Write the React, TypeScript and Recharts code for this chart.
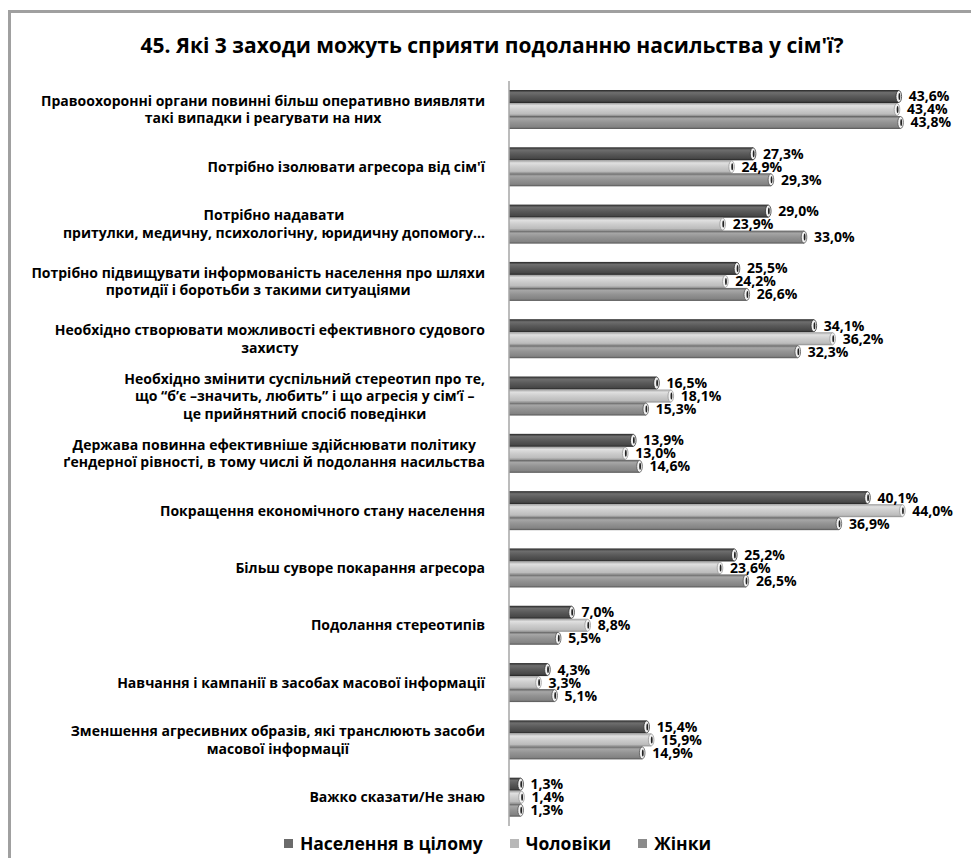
import React from "react";
import { BarChart, Bar, XAxis, YAxis, LabelList } from "recharts";

const categories = [
  "Правоохоронні органи повинні більш оперативно виявляти\nтакі випадки і реагувати на них",
  "Потрібно ізолювати агресора від сім'ї",
  "Потрібно надавати\nпритулки, медичну, психологічну, юридичну допомогу…",
  "Потрібно підвищувати інформованість населення про шляхи\nпротидії і боротьби з такими ситуаціями",
  "Необхідно створювати можливості ефективного судового\nзахисту",
  "Необхідно змінити суспільний стереотип про те,\nщо “б’є –значить, любить” і що агресія у сім’ї –\nце прийнятний спосіб поведінки",
  "Держава повинна ефективніше здійснювати політику\nґендерної рівності, в тому числі й подолання насильства",
  "Покращення економічного стану населення",
  "Більш суворе покарання агресора",
  "Подолання стереотипів",
  "Навчання і кампанії в засобах масової інформації",
  "Зменшення агресивних образів, які транслюють засоби\nмасової інформації",
  "Важко сказати/Не знаю",
];

const totalValues = [43.6, 27.3, 29.0, 25.5, 34.1, 16.5, 13.9, 40.1, 25.2, 7.0, 4.3, 15.4, 1.3];
const menValues = [43.4, 24.9, 23.9, 24.2, 36.2, 18.1, 13.0, 44.0, 23.6, 8.8, 3.3, 15.9, 1.4];
const womenValues = [43.8, 29.3, 33.0, 26.6, 32.3, 15.3, 14.6, 36.9, 26.5, 5.5, 5.1, 14.9, 1.3];

const seriesNames = ["Населення в цілому", "Чоловіки", "Жінки"];

const data = categories.map((name, i) => ({
  name,
  total: totalValues[i],
  men: menValues[i],
  women: womenValues[i],
}));

const FONT = '"Open Sans", "Noto Sans", sans-serif';
const LABEL_FONT_SIZE = 14;

let measureCtx: CanvasRenderingContext2D | null = null;
function textWidth(s: string) {
  if (!measureCtx) {
    measureCtx = document.createElement("canvas").getContext("2d");
  }
  if (!measureCtx) return s.length * 8;
  measureCtx.font = `bold ${LABEL_FONT_SIZE}px ${FONT}`;
  return measureCtx.measureText(s).width;
}

// right-aligned block, each line centred inside it (like the Excel original)
const CategoryTick = (props: any) => {
  const { x, y, payload } = props;
  const lines: string[] = String(payload.value).split("\n");
  const blockW = Math.max(...lines.map(textWidth));
  const cx = x - blockW / 2;
  const lh = 17.5;
  const startY = y - ((lines.length - 1) * lh) / 2;
  return (
    <g>
      {lines.map((l, i) => (
        <text
          key={i}
          x={cx}
          y={startY + i * lh}
          dy="0.35em"
          textAnchor="middle"
          fontFamily={FONT}
          fontWeight="bold"
          fontSize={LABEL_FONT_SIZE}
          fill="#000"
        >
          {l}
        </text>
      ))}
    </g>
  );
};

const Cylinder = (props: any) => {
  const { x, y, width, height, grad, cap } = props;
  if (width == null || height == null) return null;
  const w = Math.max(width, 0);
  return (
    <g>
      <rect x={x} y={y} width={w} height={height} fill={`url(#${grad})`} />
      <ellipse
        cx={x + w}
        cy={y + height / 2}
        rx={2.8}
        ry={height / 2 - 0.5}
        fill="#f2f2f2"
        stroke={cap}
        strokeWidth={0.8}
      />
      <ellipse cx={x + w + 0.6} cy={y + height / 2} rx={0.9} ry={height / 2 - 3} fill="#222" />
    </g>
  );
};

const fmt = (v: any) => `${Number(v).toFixed(1).replace(".", ",")}%`;

const labelStyle = {
  fontFamily: FONT,
  fontWeight: 700,
  fontSize: 14,
  fill: "#000",
};

const legendColors = ["#6b6b6b", "#b8b8b8", "#8b8b8b"];

export default function App() {
  return (
    <div style={{ position: "relative", width: 971, height: 850, overflow: "hidden" }}>
      <style>{`html,body{overflow:hidden}`}</style>
      <div
        style={{
          position: "absolute",
          left: 0,
          top: 23,
          width: 968,
          textAlign: "center",
          fontFamily: FONT,
          fontWeight: 700,
          fontSize: 21,
          lineHeight: "28px",
          color: "#000",
        }}
      >
        45. Які 3 заходи можуть сприяти подоланню насильства у сім'ї?
      </div>
      <div style={{ position: "absolute", left: 0, top: 0 }}>
        <BarChart
          width={963}
          height={850}
          data={data}
          layout="vertical"
          margin={{ top: 73, right: 15, bottom: 32, left: 0 }}
          barSize={13}
          barGap={0}
        >
          <defs>
            <linearGradient id="gDark" x1="0" y1="0" x2="0" y2="1">
              <stop offset="0" stopColor="#262626" />
              <stop offset="0.2" stopColor="#6e6e6e" />
              <stop offset="0.5" stopColor="#5a5a5a" />
              <stop offset="0.85" stopColor="#474747" />
              <stop offset="1" stopColor="#222222" />
            </linearGradient>
            <linearGradient id="gLight" x1="0" y1="0" x2="0" y2="1">
              <stop offset="0" stopColor="#9c9c9c" />
              <stop offset="0.2" stopColor="#e0e0e0" />
              <stop offset="0.5" stopColor="#cdcdcd" />
              <stop offset="0.85" stopColor="#bcbcbc" />
              <stop offset="1" stopColor="#8c8c8c" />
            </linearGradient>
            <linearGradient id="gMid" x1="0" y1="0" x2="0" y2="1">
              <stop offset="0" stopColor="#5c5c5c" />
              <stop offset="0.2" stopColor="#a6a6a6" />
              <stop offset="0.5" stopColor="#939393" />
              <stop offset="0.85" stopColor="#838383" />
              <stop offset="1" stopColor="#555555" />
            </linearGradient>
          </defs>
          <XAxis type="number" domain={[0, 50]} hide />
          <YAxis
            type="category"
            dataKey="name"
            width={501}
            tickLine={false}
            tickSize={0}
            tickMargin={24}
            axisLine={{ stroke: "#a6a6a6", strokeWidth: 1.5 }}
            tick={<CategoryTick />}
            interval={0}
          />
          <Bar
            dataKey="total"
            name={seriesNames[0]}
            fill="#595959"
            isAnimationActive={false}
            shape={(p: any) => <Cylinder {...p} grad="gDark" cap="#333" />}
          >
            <LabelList dataKey="total" position="right" offset={10} formatter={fmt} style={labelStyle} />
          </Bar>
          <Bar
            dataKey="men"
            name={seriesNames[1]}
            fill="#bfbfbf"
            isAnimationActive={false}
            shape={(p: any) => <Cylinder {...p} grad="gLight" cap="#999" />}
          >
            <LabelList dataKey="men" position="right" offset={10} formatter={fmt} style={labelStyle} />
          </Bar>
          <Bar
            dataKey="women"
            name={seriesNames[2]}
            fill="#8c8c8c"
            isAnimationActive={false}
            shape={(p: any) => <Cylinder {...p} grad="gMid" cap="#555" />}
          >
            <LabelList dataKey="women" position="right" offset={10} formatter={fmt} style={labelStyle} />
          </Bar>
        </BarChart>
      </div>
      <div
        style={{
          position: "absolute",
          left: 8,
          top: 823,
          width: 963,
          display: "flex",
          justifyContent: "center",
          gap: 27,
          fontFamily: FONT,
          fontWeight: 700,
          fontSize: 17.5,
          lineHeight: "24px",
          color: "#000",
        }}
      >
        {seriesNames.map((n, i) => (
          <div key={n} style={{ display: "flex", alignItems: "center" }}>
            <span
              style={{
                display: "inline-block",
                width: 9,
                height: 9,
                background: legendColors[i],
                marginRight: 7,
              }}
            />
            {n}
          </div>
        ))}
      </div>
      <div
        style={{
          position: "absolute",
          left: 0,
          top: 2,
          width: 971,
          height: 848,
          borderLeft: "3px solid #a0a0a0",
          borderTop: "3px solid #a0a0a0",
          boxSizing: "border-box",
          zIndex: 5,
          pointerEvents: "none",
        }}
      />
    </div>
  );
}
